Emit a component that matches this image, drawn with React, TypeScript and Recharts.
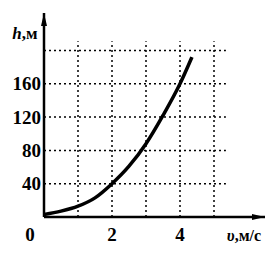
import { LineChart, Line, XAxis, YAxis, ReferenceLine, ReferenceDot, Label } from "recharts";

const speeds = [0, 0.5, 1, 1.5, 2, 2.5, 3, 3.5, 4, 4.35];
const heights = [3, 7, 13, 23, 40, 61, 88, 122, 160, 192];
const xTicks = [0, 2, 4];
const yTicks = [40, 80, 120, 160];
const gridX = [1, 2, 3, 4, 5];
const gridY = [40, 80, 120, 160, 200];

const data = speeds.map((v, i) => ({ v, h: heights[i] }));

const serif = "'Liberation Serif', 'Times New Roman', serif";

const XTick = (props: any) => {
  const { x, y, payload } = props;
  const dx = payload.value === 0 ? -14 : 0;
  return (
    <text x={x + dx} y={y + 9} textAnchor="middle" dominantBaseline="central"
      fontFamily={serif} fontWeight="bold" fontSize={19} fill="#000">
      {payload.value}
    </text>
  );
};

const YTick = (props: any) => {
  const { y, payload } = props;
  return (
    <text x={41} y={y} textAnchor="end" dominantBaseline="central"
      fontFamily={serif} fontWeight="bold" fontSize={19} fill="#000">
      {payload.value}
    </text>
  );
};

const arrowRight = (p: any) => (
  <polygon points={`${p.cx},${p.cy} ${p.cx - 13},${p.cy - 3} ${p.cx - 13},${p.cy + 3}`} fill="#000" />
);
const arrowUp = (p: any) => (
  <polygon points={`${p.cx},${p.cy} ${p.cx - 3},${p.cy + 13} ${p.cx + 3},${p.cy + 13}`} fill="#000" />
);

export default function App() {
  return (
    <div style={{ position: "absolute", left: 0, top: 0, background: "#fff" }}>
      <LineChart width={280} height={259} data={data} margin={{ top: 13, right: 15, bottom: 12, left: 0 }}>
        {gridX.map((g) => (
          <ReferenceLine key={"gx" + g} segment={[{ x: g, y: 0 }, { x: g, y: 211 }]}
            stroke="#000" strokeWidth={1.5} strokeDasharray="2 3" ifOverflow="visible" />
        ))}
        {gridY.map((g) => (
          <ReferenceLine key={"gy" + g} segment={[{ x: 0, y: g }, { x: 5.35, y: g }]}
            stroke="#000" strokeWidth={1.5} strokeDasharray="2 3" ifOverflow="visible" />
        ))}
        <XAxis dataKey="v" type="number" domain={[0, 6.5]} ticks={xTicks} tick={<XTick />}
          tickLine={false} axisLine={{ stroke: "#000", strokeWidth: 2.5 }} height={30}
          allowDataOverflow>
          <Label content={(p: any) => (
            <text x={p.viewBox.x + p.viewBox.width - 21} y={p.viewBox.y + 18} textAnchor="middle"
              dominantBaseline="central" fontFamily={serif} fontWeight="bold" fontSize={16} fill="#000">
              <tspan fontStyle="italic">υ</tspan>,м/с
            </text>
          )} />
        </XAxis>
        <YAxis type="number" domain={[0, 245]} ticks={yTicks} tick={<YTick />} width={44}
          tickLine={false} axisLine={{ stroke: "#000", strokeWidth: 2.5 }} allowDataOverflow>
          <Label content={(p: any) => (
            <text x={25} y={p.viewBox.y + 20} textAnchor="middle" dominantBaseline="central"
              fontFamily={serif} fontWeight="bold" fontSize={17} fill="#000">
              <tspan fontStyle="italic">h</tspan>,м
            </text>
          )} />
        </YAxis>
        <ReferenceDot x={6.5} y={0} r={0} shape={arrowRight} ifOverflow="visible" />
        <ReferenceDot x={0} y={245} r={0} shape={arrowUp} ifOverflow="visible" />
        <Line type="monotone" dataKey="h" stroke="#000" strokeWidth={3.5} dot={false} isAnimationActive={false} />
      </LineChart>
    </div>
  );
}
